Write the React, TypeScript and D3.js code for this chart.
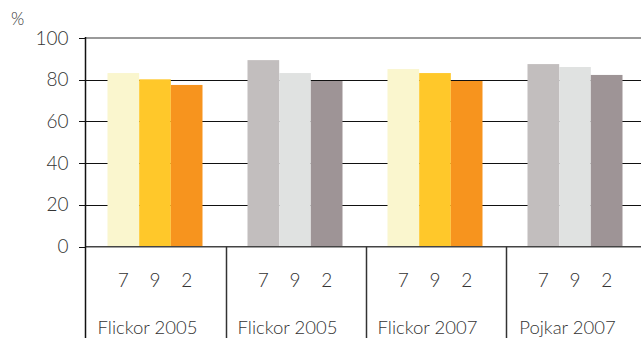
import React from "react";
import * as d3 from "d3";

const groups = ["Flickor 2005", "Flickor 2005 ", "Flickor 2007", "Pojkar 2007"];
const grades = ["7", "9", "2"];
const values = [
  [83.2, 80.2, 77.5],
  [89.4, 83.2, 79.4],
  [85.1, 83.2, 79.4],
  [87.5, 86.1, 82.3],
];
const yTicks = [0, 20, 40, 60, 80, 100];
const palettes = [
  ["#FAF6CE", "#FFC82A", "#F7941E"],
  ["#C2BEBE", "#E0E2E1", "#9E9496"],
  ["#FAF6CE", "#FFC82A", "#F7941E"],
  ["#C2BEBE", "#E0E2E1", "#9E9496"],
];

export default function App() {
  const W = 641, H = 338;
  const left = 85.5;
  const x = d3.scaleBand<string>().domain(groups).range([left, left + 560]).padding(0);
  const inner = d3.scaleBand<string>().domain(grades).range([22, 117]).padding(0);
  const y = d3.scaleLinear().domain([0, 100]).range([246.7, 38]);
  const font = "Lato, 'DejaVu Sans', sans-serif";
  return (
    <svg width={W} height={H} style={{ position: "absolute", left: 0, top: 0 }} fontFamily={font}>
      <rect width={W} height={H} fill="#fff" />
      {yTicks.filter((t) => t > 0 && t < 100).map((t) => (
        <line key={t} x1={left} x2={W} y1={Math.round(y(t)) + 0.5} y2={Math.round(y(t)) + 0.5} stroke="#111" strokeWidth={1} />
      ))}
      {groups.map((g, gi) =>
        grades.map((c, ci) => (
          <rect
            key={g + c}
            x={(x(g) as number) + (inner(c) as number)}
            y={y(values[gi][ci])}
            width={inner.bandwidth()}
            height={y(0) - y(values[gi][ci])}
            fill={palettes[gi][ci]}
          />
        ))
      )}
      <line x1={left} x2={W} y1={y(100)} y2={y(100)} stroke="#9a9a9a" strokeWidth={2} />
      <line x1={left} x2={W} y1={y(0)} y2={y(0)} stroke="#444" strokeWidth={1.5} />
      {yTicks.map((t) => (
        <g key={"t" + t}>
          <line x1={79} x2={left} y1={Math.round(y(t)) + 0.5} y2={Math.round(y(t)) + 0.5} stroke="#111" />
          <text x={68.5} y={y(t) + 6.5} textAnchor="end" fontSize={19} fontWeight={300} fill="#333">
            {t}
          </text>
        </g>
      ))}
      <line x1={left} x2={left} y1={y(100) - 1} y2={H} stroke="#111" strokeWidth={1.5} />
      {groups.slice(1).map((g) => (
        <line key={"s" + g} x1={Math.round(x(g) as number) + 0.5} x2={Math.round(x(g) as number) + 0.5} y1={y(0)} y2={H} stroke="#333" strokeWidth={1.5} />
      ))}
      {groups.map((g) =>
        grades.map((c) => (
          <text key={"l" + g + c} x={(x(g) as number) + (inner(c) as number) + inner.bandwidth() / 2} y={287} textAnchor="middle" fontSize={19} fontWeight={300} fill="#333">
            {c}
          </text>
        ))
      )}
      {groups.map((g) => (
        <text key={"g" + g} x={(x(g) as number) + x.bandwidth() / 2 - 8} y={334} textAnchor="middle" fontSize={18.5} fontWeight={300} fill="#333">
          {g.trim()}
        </text>
      ))}
      <text x={11} y={25} fontSize={17} fontWeight={300} fill="#333">%</text>
    </svg>
  );
}
